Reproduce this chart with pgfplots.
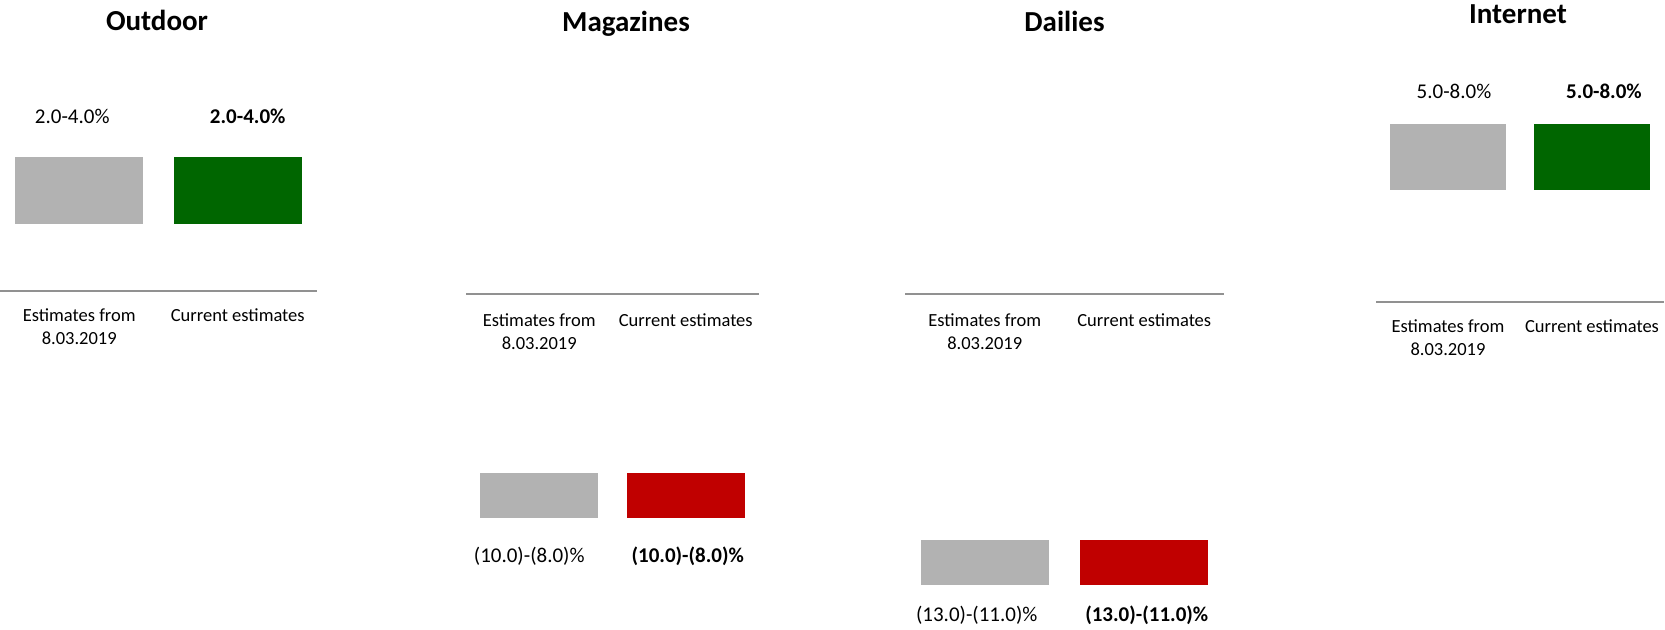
\documentclass[border=0pt]{standalone}
\usepackage{pgfplots}
\pgfplotsset{compat=1.18}
\usepackage{fontspec}
\setmainfont{Carlito}
\definecolor{bargray}{RGB}{178,178,178}
\definecolor{bargreen}{RGB}{0,102,0}
\definecolor{barred}{RGB}{192,0,0}
\definecolor{axisgray}{RGB}{145,145,145}
\newcommand\ticksize{\fontsize{9.25pt}{11.5pt}\selectfont}
\newcommand\titlesize{\fontsize{14.5pt}{17pt}\selectfont\bfseries}
\newcommand\valsize{\fontsize{10.5pt}{12pt}\selectfont}
\pgfplotsset{
  panel/.style={
    scale only axis, height=314.5pt, anchor=south west,
    axis x line=middle, axis y line=none,
    axis line style={-, draw=axisgray, line width=1pt},
    xmin=0.5, xmax=2.5, xtick={1,2},
    xticklabels={{Estimates from\\8.03.2019},{Current estimates}},
    xticklabel style={align=center, font=\ticksize, text=black, anchor=north},
    major tick length=0pt, xtick style={draw=none},
    enlargelimits=false, clip=false,
    ybar stacked,
    title style={font=\titlesize, at={(0.5,1)}, anchor=base},
  },
  base/.style={draw=none, fill=none, forget plot},
}
\tikzset{val/.style={anchor=base, font=\valsize, text=black}}
\begin{document}
\begin{tikzpicture}
\path[use as bounding box] (0,0) rectangle (832.5pt,-314.5pt);
% Outdoor
\begin{axis}[panel, at={(0pt,-314.5pt)}, width=158.5pt, ymin=-10.09, ymax=8.687,
  bar width=64pt, title={Outdoor}, title style={yshift=-21pt, xshift=-0.75pt},
  xticklabel style={yshift=-5.5pt}]
\addplot[base] coordinates {(1,2) (2,2)};
\addplot[fill=bargray, draw=none] coordinates {(1,2) (2,0)};
\addplot[fill=bargreen, draw=none] coordinates {(1,0) (2,2)};
\node[val, xshift=-3.5pt, yshift=17pt] at (axis cs:1,4) {2.0-4.0\%};
\node[val, xshift=5pt, yshift=17pt] at (axis cs:2,4) {\textbf{2.0-4.0\%}};
\end{axis}
% Magazines
\begin{axis}[panel, at={(233pt,-314.5pt)}, width=146.5pt, ymin=-14.955, ymax=13.125,
  bar width=59pt, title={Magazines}, title style={yshift=-21.5pt, xshift=6.75pt},
  xticklabel style={yshift=-6.5pt}]
\addplot[base] coordinates {(1,-8) (2,-8)};
\addplot[fill=bargray, draw=none] coordinates {(1,-2) (2,0)};
\addplot[fill=barred, draw=none] coordinates {(1,0) (2,-2)};
\node[val, xshift=-5pt, yshift=-22pt] at (axis cs:1,-10) {(10.0)-(8.0)\%};
\node[val, xshift=1pt, yshift=-22pt] at (axis cs:2,-10) {\textbf{(10.0)-(8.0)\%}};
\end{axis}
% Dailies
\begin{axis}[panel, at={(452.5pt,-314.5pt)}, width=159.5pt, ymin=-14.955, ymax=13.125,
  bar width=64pt, title={Dailies}, title style={yshift=-21.5pt},
  xticklabel style={yshift=-6.5pt}]
\addplot[base] coordinates {(1,-11) (2,-11)};
\addplot[fill=bargray, draw=none] coordinates {(1,-2) (2,0)};
\addplot[fill=barred, draw=none] coordinates {(1,0) (2,-2)};
\node[val, xshift=-4pt, yshift=-18pt] at (axis cs:1,-13) {(13.0)-(11.0)\%};
\node[val, xshift=1.25pt, yshift=-18pt] at (axis cs:2,-13) {\textbf{(13.0)-(11.0)\%}};
\end{axis}
% Internet
\begin{axis}[panel, at={(688pt,-314.5pt)}, width=144pt, ymin=-14.66, ymax=13.54,
  bar width=58pt, title={Internet}, title style={yshift=-17.5pt, xshift=-1pt},
  xticklabel style={yshift=-5.5pt}]
\addplot[base] coordinates {(1,5) (2,5)};
\addplot[fill=bargray, draw=none] coordinates {(1,3) (2,0)};
\addplot[fill=bargreen, draw=none] coordinates {(1,0) (2,3)};
\node[val, xshift=3pt, yshift=12.3pt] at (axis cs:1,8) {5.0-8.0\%};
\node[val, xshift=6pt, yshift=12.3pt] at (axis cs:2,8) {\textbf{5.0-8.0\%}};
\end{axis}
\end{tikzpicture}
\end{document}
